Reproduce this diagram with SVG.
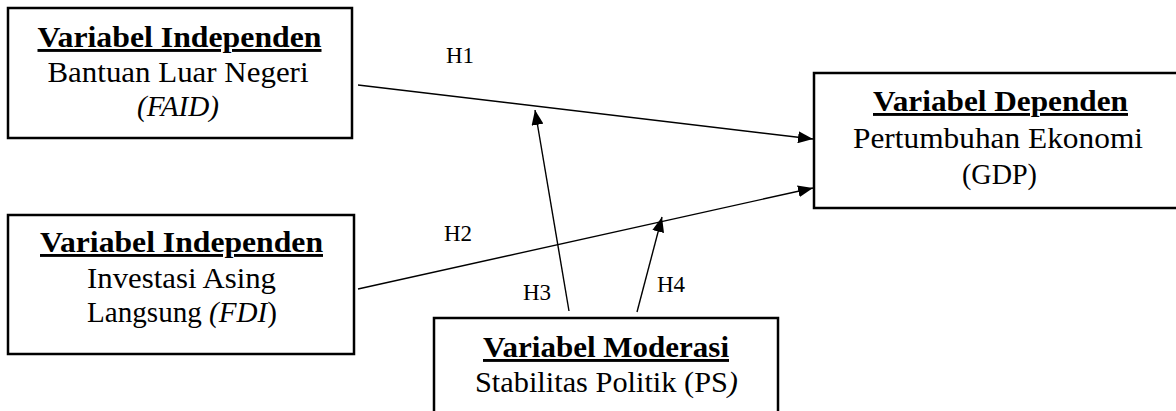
<svg xmlns="http://www.w3.org/2000/svg" width="1176" height="411" viewBox="0 0 1176 411">
<style>
.box{fill:#fff;stroke:#000;stroke-width:2.5}
.t{font-family:"Liberation Serif","Times New Roman",serif;font-size:29px;fill:#000;text-anchor:middle}
.b{font-weight:bold;text-decoration:underline}
.i{font-style:italic}
.lbl{font-family:"Liberation Serif","Times New Roman",serif;font-size:23px;fill:#000}
.c{stroke:#000;stroke-width:1.4;fill:none;marker-end:url(#ah)}
</style>
<defs>
<marker id="ah" markerUnits="userSpaceOnUse" markerWidth="16" markerHeight="12" refX="15" refY="6" orient="auto">
<path d="M0,0 L15,6 L0,12 z" fill="#000"/>
</marker>
</defs>
<g id="connectors">
<line class="c" x1="358" y1="85" x2="813" y2="139"/>
<line class="c" x1="358" y1="289" x2="813" y2="188"/>
<line class="c" x1="569" y1="311" x2="535" y2="110"/>
<line class="c" x1="637" y1="312" x2="662" y2="217"/>
<text class="lbl" x="446" y="63">H1</text>
<text class="lbl" x="444" y="241">H2</text>
<text class="lbl" x="523" y="300">H3</text>
<text class="lbl" x="657" y="292">H4</text>
</g>
<g id="faid">
<rect class="box" x="8" y="8" width="344" height="130"/>
<text class="t b" x="179.5" y="47" textLength="284" lengthAdjust="spacingAndGlyphs">Variabel Independen</text>
<text class="t" x="178" y="82" textLength="261" lengthAdjust="spacingAndGlyphs">Bantuan Luar Negeri</text>
<text class="t i" x="178" y="116" textLength="82" lengthAdjust="spacingAndGlyphs">(FAID)</text>
</g>
<g id="fdi">
<rect class="box" x="8" y="215" width="346" height="139"/>
<text class="t b" x="181.5" y="252" textLength="283" lengthAdjust="spacingAndGlyphs">Variabel Independen</text>
<text class="t" x="181.5" y="288" textLength="189" lengthAdjust="spacingAndGlyphs">Investasi Asing</text>
<text class="t" x="182" y="322" textLength="190" lengthAdjust="spacingAndGlyphs">Langsung <tspan class="i">(FDI</tspan>)</text>
</g>
<g id="gdp">
<rect class="box" x="814" y="73" width="370" height="135"/>
<text class="t b" x="1000.5" y="111" textLength="255" lengthAdjust="spacingAndGlyphs">Variabel Dependen</text>
<text class="t" x="998" y="148" textLength="290" lengthAdjust="spacingAndGlyphs">Pertumbuhan Ekonomi</text>
<text class="t" x="999.5" y="184" textLength="75" lengthAdjust="spacingAndGlyphs">(GDP)</text>
</g>
<g id="ps">
<rect class="box" x="434" y="318" width="344" height="110"/>
<text class="t b" x="606" y="357" textLength="246" lengthAdjust="spacingAndGlyphs">Variabel Moderasi</text>
<text class="t" x="606.5" y="392" textLength="263" lengthAdjust="spacingAndGlyphs">Stabilitas Politik (PS<tspan class="i">)</tspan></text>
</g>
</svg>
